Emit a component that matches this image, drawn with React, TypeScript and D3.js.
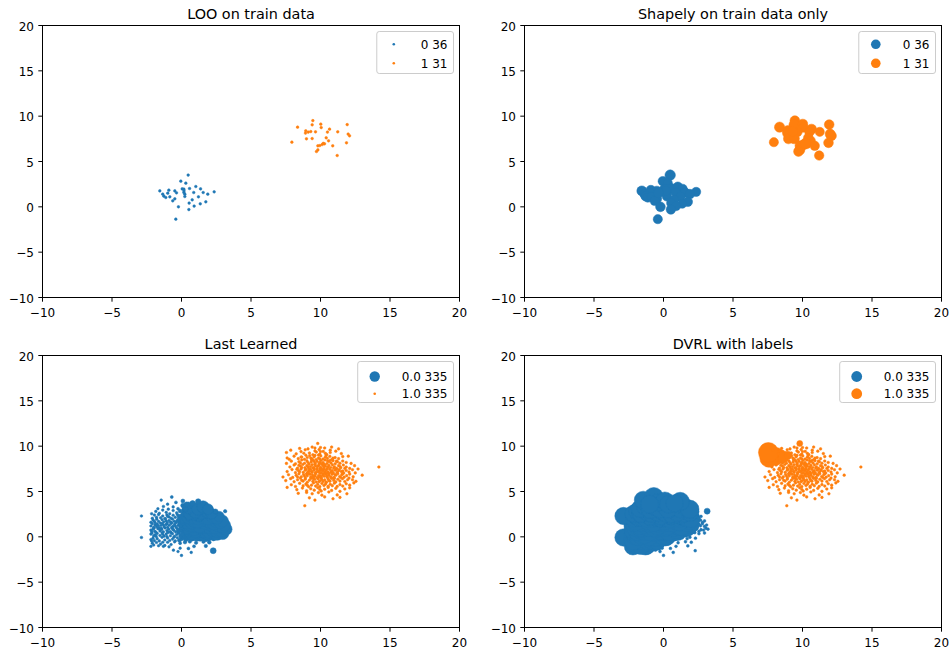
import React from "react";
import * as d3 from "d3";

// Each point: [x, y, weightA, weightB]
// top row: weightA = LOO value, weightB = Shapley value
// bottom row: weightA = Last-Learned value, weightB = DVRL value
type Pt = [number, number, number, number];

const TOP_CLASS0: Pt[] = [
  [0.48, 3.5, 7, 110], [-0.05, 2.83, 7, 90], [0.31, 2.61, 7, 85], [-1.56, 1.76, 7, 100],
  [-0.91, 1.84, 7, 95], [-0.48, 1.76, 7, 90], [0.05, 1.98, 7, 85], [0.17, 1.95, 7, 90],
  [0.58, 2.02, 7, 95], [1.03, 2.24, 7, 85], [1.37, 1.98, 7, 90], [2.35, 1.65, 7, 85],
  [-1.35, 1.4, 7, 95], [-0.99, 1.51, 7, 100], [0.17, 1.58, 7, 90], [0.88, 1.58, 7, 85],
  [1.56, 1.58, 7, 90], [1.89, 1.4, 7, 95], [-1.27, 1.18, 7, 100], [-1.13, 1.03, 7, 90],
  [-0.84, 1.1, 7, 95], [0.24, 1.14, 7, 85], [1.22, 1.1, 7, 90], [-0.48, 0.88, 7, 95],
  [-0.63, 0.66, 7, 90], [0.77, 0.77, 7, 85], [1.75, 0.55, 7, 90], [0.55, 0.41, 7, 85],
  [1.35, 0.33, 7, 80], [0.91, 0.08, 7, 85], [-0.22, 0.0, 7, 95], [0.53, -0.3, 7, 90],
  [-0.41, -1.36, 7, 85], [0.24, 1.4, 7, 90], [0.18, 1.76, 7, 85], [-0.36, 1.54, 7, 95],
];

const TOP_CLASS1: Pt[] = [
  [9.45, 9.51, 7, 95], [9.4, 9.04, 7, 110], [10.02, 9.12, 7, 100], [10.05, 8.74, 7, 90],
  [8.35, 8.79, 7, 105], [11.92, 9.07, 7, 95], [10.65, 8.57, 7, 100], [10.5, 8.24, 7, 90],
  [8.94, 8.38, 7, 110], [9.12, 8.24, 7, 95], [8.92, 8.13, 7, 100], [9.64, 8.27, 7, 90],
  [11.24, 8.27, 7, 85], [11.99, 8.02, 7, 100], [12.09, 7.83, 7, 95], [8.99, 7.5, 7, 100],
  [9.4, 7.53, 7, 110], [10.41, 7.61, 7, 90], [10.58, 7.28, 7, 95], [7.94, 7.13, 7, 85],
  [11.87, 7.06, 7, 95], [10.29, 6.95, 7, 100], [10.12, 6.87, 7, 90], [9.95, 6.76, 7, 105],
  [9.81, 6.73, 7, 95], [10.88, 6.73, 7, 90], [9.81, 6.28, 7, 100], [9.71, 6.1, 7, 95],
  [11.2, 5.66, 7, 90], [10.2, 7.0, 7, 100], [9.3, 8.3, 7, 95],
];

const BOTTOM_CLASS0: Pt[] = [
  [0.0, -2.05, 7, 8], [0.7, -1.72, 7, 8], [2.28, -1.53, 36, 8], [-0.25, -1.62, 7, 8],
  [-2.2, -1.05, 7, 300], [-1.3, -1.05, 7, 300], [-0.9, -1.1, 7, 8], [-0.58, -1.47, 7, 8],
  [-0.1, -1.25, 7, 8], [0.5, -1.28, 9, 8], [0.9, -1.05, 9, 8], [1.75, -1.0, 12, 8],
  [-2.1, -0.7, 7, 330], [-2.0, -0.9, 7, 290], [-1.8, -0.62, 7, 340], [-1.5, -0.8, 7, 300],
  [-1.2, -0.95, 7, 320], [-1.0, -0.6, 7, 350], [-0.75, -0.85, 7, 8], [-0.5, -0.55, 7, 300],
  [-0.1, -0.7, 9, 8], [0.25, -0.6, 12, 8], [0.6, -0.52, 12, 8], [1.05, -0.65, 12, 8],
  [1.58, -0.54, 12, 8], [2.0, -0.6, 14, 8], [-1.35, -0.6, 7, 330], [-1.65, -0.98, 7, 310],
  [-2.88, -0.07, 7, 300], [-2.2, -0.3, 7, 340], [-2.05, -0.15, 7, 320], [-1.95, -0.42, 7, 300],
  [-1.75, -0.2, 7, 360], [-1.6, -0.45, 7, 310], [-1.4, -0.05, 7, 330], [-1.2, -0.35, 7, 350],
  [-1.0, -0.12, 7, 300], [-0.85, -0.4, 7, 320], [-0.65, -0.25, 7, 340], [-0.45, -0.45, 7, 300],
  [-0.3, -0.1, 7, 310], [-0.15, -0.38, 16, 8], [0.0, -0.22, 16, 8], [0.15, -0.05, 20, 300],
  [0.3, -0.3, 20, 8], [0.45, -0.12, 25, 8], [0.75, -0.2, 25, 8], [1.0, -0.05, 40, 8],
  [1.35, -0.1, 50, 8], [1.7, -0.2, 40, 8], [1.9, -0.05, 60, 8], [2.3, -0.15, 30, 8],
  [-2.15, -0.45, 7, 330], [-0.55, -0.05, 7, 350],
  [-2.2, 0.3, 7, 320], [-2.0, 0.1, 7, 350], [-2.12, 0.42, 7, 300], [-1.9, 0.22, 7, 330],
  [-1.82, 0.05, 7, 360], [-1.75, 0.38, 7, 310], [-1.55, 0.15, 7, 340], [-1.4, 0.45, 7, 300],
  [-1.25, 0.08, 7, 320], [-1.1, 0.3, 7, 350], [-0.95, 0.48, 7, 310], [-0.8, 0.12, 7, 330],
  [-0.65, 0.35, 7, 300], [-0.5, 0.05, 7, 340], [-0.35, 0.25, 7, 320], [-0.2, 0.45, 16, 350],
  [-0.05, 0.1, 20, 310], [0.1, 0.3, 25, 330], [0.25, 0.02, 20, 300], [0.38, 0.4, 30, 340],
  [0.5, 0.12, 60, 8], [0.62, 0.45, 120, 300], [0.88, 0.3, 130, 8], [1.0, 0.48, 150, 8],
  [1.12, 0.18, 140, 8], [1.25, 0.4, 160, 8], [1.55, 0.32, 170, 8], [1.7, 0.45, 150, 8],
  [1.95, 0.38, 180, 8], [2.25, 0.46, 170, 8], [2.55, 0.35, 180, 8], [2.95, 0.42, 170, 8],
  [-1.05, 0.02, 7, 330], [-0.75, 0.45, 7, 310], [0.7, 0.25, 110, 8], [-1.35, 0.28, 7, 340],
  [-2.15, 0.6, 7, 330], [-2.05, 0.85, 7, 310], [-2.2, 0.75, 7, 300], [-1.98, 0.95, 7, 340],
  [-1.92, 0.62, 7, 320], [-1.85, 0.52, 7, 300], [-1.7, 0.9, 7, 350], [-1.55, 0.65, 7, 310],
  [-1.42, 0.8, 7, 330], [-1.3, 0.55, 7, 300], [-1.18, 0.98, 7, 340], [-1.05, 0.7, 7, 310],
  [-0.92, 0.85, 7, 320], [-0.8, 0.58, 7, 300], [-0.68, 0.95, 7, 350], [-0.55, 0.72, 7, 310],
  [-0.42, 0.55, 7, 330], [-0.3, 0.88, 7, 300], [-0.18, 0.62, 16, 340], [-0.05, 0.95, 20, 310],
  [0.08, 0.75, 25, 320], [0.2, 0.55, 20, 300], [0.32, 0.9, 30, 350], [0.45, 0.68, 100, 310],
  [0.58, 0.52, 110, 330], [0.7, 0.85, 130, 300], [0.82, 0.62, 120, 340], [0.95, 0.97, 150, 310],
  [1.08, 0.74, 140, 320], [1.2, 0.55, 160, 8], [1.32, 0.88, 150, 300], [1.45, 0.66, 170, 8],
  [1.58, 0.95, 160, 320], [1.7, 0.6, 180, 8], [1.83, 0.8, 170, 8], [1.96, 0.55, 160, 8],
  [2.1, 0.92, 180, 8], [2.25, 0.7, 170, 8], [2.4, 0.88, 190, 8], [2.55, 0.6, 160, 8],
  [2.7, 0.78, 170, 8], [2.88, 0.74, 180, 8], [3.05, 0.95, 160, 8], [3.2, 0.85, 150, 8],
  [-1.0, 0.52, 7, 300], [-0.25, 0.7, 12, 340], [0.15, 0.98, 25, 310], [0.5, 0.8, 120, 330],
  [0.75, 0.7, 140, 300], [1.0, 0.58, 150, 320], [1.25, 0.98, 160, 310], [0.38, 0.6, 36, 340],
  [-0.6, 0.82, 7, 300], [-1.6, 0.88, 7, 330], [-1.45, 0.95, 7, 310], [0.9, 0.78, 150, 320],
  [-2.2, 1.2, 7, 320], [-2.1, 1.45, 7, 300], [-2.0, 1.05, 7, 340], [-1.9, 1.3, 7, 310],
  [-1.8, 1.12, 7, 350], [-1.75, 1.42, 7, 300], [-1.62, 1.02, 7, 330], [-1.5, 1.25, 7, 310],
  [-1.38, 1.45, 7, 340], [-1.25, 1.1, 7, 300], [-1.12, 1.35, 7, 320], [-1.0, 1.05, 7, 350],
  [-0.88, 1.28, 7, 310], [-0.75, 1.48, 7, 330], [-0.62, 1.15, 7, 300], [-0.5, 1.38, 7, 340],
  [-0.38, 1.02, 7, 310], [-0.25, 1.25, 7, 320], [-0.12, 1.45, 20, 300], [0.0, 1.1, 25, 350],
  [0.12, 1.32, 30, 310], [0.25, 1.05, 20, 330], [0.38, 1.42, 36, 300], [0.5, 1.18, 110, 340],
  [0.62, 1.38, 130, 310], [0.75, 1.02, 120, 320], [0.88, 1.28, 150, 300], [1.0, 1.48, 140, 350],
  [1.12, 1.12, 160, 310], [1.25, 1.35, 170, 330], [1.38, 1.05, 150, 300], [1.5, 1.25, 180, 340],
  [1.62, 1.45, 160, 310], [1.75, 1.1, 170, 320], [1.88, 1.32, 180, 300], [2.0, 1.02, 160, 8],
  [2.12, 1.4, 180, 8], [2.25, 1.2, 190, 8], [2.4, 1.05, 170, 8], [2.55, 1.37, 180, 8],
  [2.66, 1.22, 160, 8], [2.8, 1.45, 150, 8], [2.95, 1.15, 170, 8], [3.1, 1.3, 140, 8],
  [-1.7, 1.25, 7, 330], [-1.3, 1.3, 7, 310], [-0.7, 1.05, 7, 340], [-0.05, 1.3, 20, 300],
  [0.45, 1.45, 120, 320], [0.7, 1.22, 140, 310], [1.05, 1.25, 160, 340], [1.45, 1.4, 170, 300],
  [1.95, 1.45, 180, 320], [0.3, 1.2, 30, 330], [-0.45, 1.2, 7, 310], [-1.05, 1.42, 7, 300],
  [0.85, 1.45, 150, 320], [1.3, 1.15, 170, 330],
  [-2.2, 1.6, 7, 320], [-2.05, 1.85, 7, 300], [-1.9, 1.55, 7, 340], [-1.78, 1.95, 7, 310],
  [-1.65, 1.7, 7, 330], [-1.52, 1.52, 7, 300], [-1.4, 1.88, 7, 350], [-1.28, 1.65, 7, 310],
  [-1.15, 1.98, 7, 320], [-1.02, 1.58, 7, 300], [-0.9, 1.8, 7, 340], [-0.78, 1.62, 7, 310],
  [-0.65, 1.95, 7, 330], [-0.52, 1.72, 7, 300], [-0.4, 1.55, 7, 350], [-0.28, 1.88, 7, 310],
  [-0.15, 1.65, 16, 320], [-0.02, 1.98, 20, 300], [0.1, 1.55, 25, 340], [0.22, 1.78, 30, 310],
  [0.35, 1.6, 36, 330], [0.48, 1.92, 120, 300], [0.6, 1.7, 130, 350], [0.72, 1.52, 140, 310],
  [0.85, 1.85, 150, 320], [0.98, 1.65, 160, 300], [1.1, 1.95, 150, 340], [1.22, 1.58, 170, 310],
  [1.35, 1.78, 180, 330], [1.48, 1.62, 160, 300], [1.6, 1.9, 170, 350], [1.72, 1.55, 180, 310],
  [1.85, 1.75, 160, 320], [1.98, 1.98, 170, 300], [2.1, 1.6, 180, 8], [2.22, 1.82, 160, 8],
  [2.35, 1.52, 190, 8], [2.48, 1.72, 170, 8], [2.66, 1.84, 150, 8], [2.8, 1.6, 160, 8],
  [2.95, 1.75, 140, 8], [-1.95, 1.72, 7, 330], [-1.1, 1.75, 7, 310], [-0.35, 1.7, 7, 340],
  [0.28, 1.9, 30, 300], [0.9, 1.75, 160, 320], [1.45, 1.85, 170, 310], [0.05, 1.75, 20, 330],
  [-0.7, 1.55, 7, 300], [1.15, 1.7, 160, 340], [0.65, 1.95, 140, 310],
  [-2.88, 2.3, 7, 300], [-2.1, 2.05, 7, 320], [-1.95, 2.4, 7, 340], [-1.8, 2.15, 7, 310],
  [-1.65, 2.45, 7, 330], [-1.5, 2.1, 7, 300], [-1.35, 2.3, 7, 350], [-1.2, 2.02, 7, 310],
  [-1.05, 2.42, 7, 320], [-0.9, 2.2, 7, 300], [-0.75, 2.05, 7, 340], [-0.6, 2.38, 7, 310],
  [-0.45, 2.15, 7, 330], [-0.3, 2.45, 7, 300], [-0.15, 2.08, 16, 350], [0.0, 2.3, 20, 310],
  [0.15, 2.12, 25, 320], [0.3, 2.42, 30, 300], [0.45, 2.05, 110, 340], [0.6, 2.28, 130, 310],
  [0.75, 2.48, 140, 330], [0.9, 2.1, 160, 300], [1.05, 2.35, 150, 350], [1.2, 2.02, 170, 310],
  [1.35, 2.25, 160, 320], [1.5, 2.45, 180, 300], [1.65, 2.12, 170, 340], [1.8, 2.32, 150, 310],
  [1.95, 2.05, 180, 330], [2.1, 2.4, 140, 8], [2.25, 2.18, 160, 8], [2.4, 2.35, 30, 8],
  [2.55, 2.05, 150, 8], [2.7, 2.25, 110, 8], [-1.0, 2.25, 7, 300], [0.55, 2.4, 130, 350],
  [1.25, 2.4, 160, 310], [-0.2, 2.3, 12, 320],
  [-2.15, 2.55, 7, 300], [-1.85, 2.8, 7, 320], [-1.6, 2.6, 7, 340], [-1.35, 2.95, 7, 310],
  [-1.1, 2.7, 7, 330], [-0.85, 2.55, 7, 300], [-0.6, 2.9, 7, 350], [-0.35, 2.65, 7, 310],
  [-0.1, 2.85, 16, 320], [0.15, 2.6, 25, 300], [0.4, 2.95, 110, 340], [0.65, 2.7, 140, 310],
  [0.9, 2.55, 160, 330], [1.15, 2.85, 150, 300], [1.4, 2.65, 170, 350], [1.65, 2.95, 130, 310],
  [1.9, 2.7, 150, 320], [2.15, 2.55, 120, 8], [2.45, 2.8, 25, 8], [3.14, 2.83, 12, 36],
  [0.55, 2.52, 130, 300], [1.0, 2.75, 160, 340],
  [-1.7, 3.1, 7, 300], [-1.3, 3.35, 7, 320], [-0.95, 3.05, 7, 340], [-0.6, 3.3, 7, 310],
  [-0.25, 3.1, 9, 330], [0.1, 3.45, 20, 300], [0.5, 3.2, 140, 350], [0.85, 3.4, 40, 310],
  [1.2, 3.1, 170, 320], [1.55, 3.3, 150, 300], [1.9, 3.05, 120, 330], [0.3, 3.05, 25, 310],
  [-1.46, 4.05, 7, 320], [-0.7, 4.4, 9, 360], [-0.4, 3.8, 9, 300], [0.1, 3.95, 16, 330],
  [0.35, 3.6, 20, 310], [1.2, 3.9, 30, 340], [0.8, 3.7, 30, 300], [-1.0, 3.6, 7, 320],
];

const BOTTOM_CLASS1: Pt[] = [
  [8.87, 3.43, 7, 7], [10.9, 4.2, 7, 7], [9.6, 4.05, 7, 7], [10.3, 4.4, 7, 7], [11.4, 4.35, 7, 7], [9.2, 4.3, 7, 7],
  [9.4, 4.75, 7, 7], [9.0, 4.9, 7, 7], [11.9, 4.75, 7, 7], [10.1, 4.6, 7, 7], [10.6, 4.95, 7, 7], [8.4, 4.8, 7, 7],
  [11.2, 4.62, 7, 7], [9.85, 4.88, 7, 7],
  [7.6, 5.45, 7, 7], [8.3, 5.2, 7, 7], [8.7, 5.38, 7, 7], [9.0, 5.08, 7, 7], [9.3, 5.3, 7, 7], [9.55, 5.15, 7, 7],
  [9.8, 5.42, 7, 7], [10.05, 5.05, 7, 7], [10.3, 5.25, 7, 7], [10.55, 5.45, 7, 7], [10.8, 5.12, 7, 7], [11.1, 5.35, 7, 7],
  [11.4, 5.02, 7, 7], [11.75, 5.28, 7, 7], [12.1, 5.4, 7, 7], [9.95, 5.22, 7, 7],
  [7.9, 5.75, 7, 7], [8.2, 5.55, 7, 7], [8.5, 5.9, 7, 7], [8.75, 5.62, 7, 7], [8.95, 5.82, 7, 7], [9.15, 5.52, 7, 7],
  [9.35, 5.7, 7, 7], [9.5, 5.95, 7, 7], [9.65, 5.6, 7, 7], [9.8, 5.78, 7, 7], [9.95, 5.53, 7, 7], [10.1, 5.88, 7, 7],
  [10.25, 5.66, 7, 7], [10.4, 5.98, 7, 7], [10.55, 5.58, 7, 7], [10.7, 5.8, 7, 7], [10.85, 5.64, 7, 7], [11.0, 5.92, 7, 7],
  [11.2, 5.56, 7, 7], [11.4, 5.76, 7, 7], [11.6, 5.6, 7, 7], [11.85, 5.85, 7, 7], [12.1, 5.7, 7, 7], [12.4, 5.95, 7, 7],
  [9.05, 5.68, 7, 7], [10.35, 5.8, 7, 7],
  [7.5, 6.2, 7, 7], [7.85, 6.42, 7, 7], [8.1, 6.08, 7, 7], [8.35, 6.3, 7, 7], [8.55, 6.48, 7, 7], [8.75, 6.15, 7, 7],
  [8.9, 6.36, 7, 7], [9.05, 6.02, 7, 7], [9.2, 6.25, 7, 7], [9.32, 6.45, 7, 7], [9.45, 6.12, 7, 7], [9.58, 6.33, 7, 7],
  [9.7, 6.05, 7, 7], [9.82, 6.4, 7, 7], [9.95, 6.18, 7, 7], [10.05, 6.47, 7, 7], [10.18, 6.1, 7, 7], [10.3, 6.28, 7, 7],
  [10.42, 6.03, 7, 7], [10.55, 6.38, 7, 7], [10.68, 6.14, 7, 7], [10.8, 6.44, 7, 7], [10.95, 6.22, 7, 7], [11.1, 6.06, 7, 7],
  [11.25, 6.35, 7, 7], [11.4, 6.15, 7, 7], [11.58, 6.42, 7, 7], [11.75, 6.1, 7, 7], [11.95, 6.3, 7, 7], [12.3, 6.3, 7, 7],
  [12.55, 6.12, 7, 7], [8.65, 6.22, 7, 7], [9.5, 6.4, 7, 7], [10.1, 6.3, 7, 7], [10.6, 6.2, 7, 7], [11.0, 6.45, 7, 7],
  [9.9, 6.08, 7, 7], [12.05, 6.48, 7, 7],
  [7.3, 6.6, 7, 7], [7.7, 6.85, 7, 7], [8.0, 6.55, 7, 7], [8.25, 6.78, 7, 7], [8.45, 6.95, 7, 7], [8.62, 6.62, 7, 7],
  [8.78, 6.88, 7, 7], [8.92, 6.52, 7, 7], [9.05, 6.74, 7, 7], [9.18, 6.97, 7, 7], [9.3, 6.58, 7, 7], [9.42, 6.82, 7, 7],
  [9.53, 6.66, 7, 7], [9.64, 6.92, 7, 7], [9.75, 6.54, 7, 7], [9.86, 6.76, 7, 7], [9.96, 6.98, 7, 7], [10.06, 6.6, 7, 7],
  [10.16, 6.84, 7, 7], [10.27, 6.68, 7, 7], [10.38, 6.94, 7, 7], [10.49, 6.56, 7, 7], [10.6, 6.8, 7, 7], [10.72, 6.63, 7, 7],
  [10.84, 6.9, 7, 7], [10.97, 6.57, 7, 7], [11.1, 6.79, 7, 7], [11.24, 6.96, 7, 7], [11.38, 6.65, 7, 7], [11.53, 6.86, 7, 7],
  [11.7, 6.58, 7, 7], [11.88, 6.75, 7, 7], [12.1, 6.92, 7, 7], [12.35, 6.62, 7, 7], [13.0, 6.8, 7, 7], [8.35, 6.6, 7, 7],
  [8.85, 6.7, 7, 7], [9.25, 6.9, 7, 7], [9.6, 6.72, 7, 7], [9.9, 6.62, 7, 7], [10.2, 6.95, 7, 7], [10.45, 6.72, 7, 7],
  [10.78, 6.52, 7, 7], [11.05, 6.88, 7, 7], [11.45, 6.55, 7, 7], [9.0, 6.93, 7, 7], [10.0, 6.7, 7, 7], [10.6, 6.98, 7, 7],
  [9.45, 6.55, 7, 7], [11.6, 6.95, 7, 7],
  [7.6, 7.2, 7, 7], [7.95, 7.42, 7, 7], [8.2, 7.08, 7, 7], [8.42, 7.3, 7, 7], [8.6, 7.48, 7, 7], [8.76, 7.12, 7, 7],
  [8.9, 7.35, 7, 7], [9.03, 7.02, 7, 7], [9.16, 7.26, 7, 7], [9.28, 7.45, 7, 7], [9.4, 7.1, 7, 7], [9.52, 7.33, 7, 7],
  [9.63, 7.05, 7, 7], [9.74, 7.4, 7, 7], [9.85, 7.18, 7, 7], [9.96, 7.47, 7, 7], [10.07, 7.08, 7, 7], [10.18, 7.28, 7, 7],
  [10.3, 7.03, 7, 7], [10.42, 7.38, 7, 7], [10.54, 7.15, 7, 7], [10.66, 7.44, 7, 7], [10.79, 7.22, 7, 7], [10.92, 7.06, 7, 7],
  [11.06, 7.35, 7, 7], [11.2, 7.12, 7, 7], [11.35, 7.42, 7, 7], [11.5, 7.2, 7, 7], [11.67, 7.04, 7, 7], [11.85, 7.32, 7, 7],
  [12.05, 7.15, 7, 7], [12.3, 7.4, 7, 7], [12.7, 7.48, 7, 7], [8.5, 7.18, 7, 7], [8.95, 7.45, 7, 7], [9.35, 7.22, 7, 7],
  [9.7, 7.12, 7, 7], [10.0, 7.32, 7, 7], [10.25, 7.45, 7, 7], [10.5, 7.02, 7, 7], [10.85, 7.3, 7, 7], [11.15, 7.48, 7, 7],
  [11.6, 7.25, 7, 7], [9.1, 7.15, 7, 7], [9.55, 7.47, 7, 7], [9.9, 7.26, 7, 7], [10.35, 7.2, 7, 7], [10.75, 7.1, 7, 7],
  [11.3, 7.28, 7, 7], [8.3, 7.45, 7, 7], [12.5, 7.05, 7, 7], [10.1, 7.4, 7, 7],
  [7.8, 7.7, 7, 7], [8.1, 7.92, 7, 7], [8.35, 7.58, 7, 7], [8.55, 7.8, 7, 7], [8.72, 7.98, 7, 7], [8.88, 7.62, 7, 7],
  [9.02, 7.85, 7, 7], [9.15, 7.52, 7, 7], [9.28, 7.75, 7, 7], [9.4, 7.95, 7, 7], [9.52, 7.6, 7, 7], [9.64, 7.82, 7, 7],
  [9.76, 7.55, 7, 7], [9.88, 7.9, 7, 7], [10.0, 7.68, 7, 7], [10.12, 7.97, 7, 7], [10.24, 7.58, 7, 7], [10.36, 7.78, 7, 7],
  [10.48, 7.53, 7, 7], [10.6, 7.88, 7, 7], [10.73, 7.65, 7, 7], [10.86, 7.94, 7, 7], [11.0, 7.72, 7, 7], [11.15, 7.56, 7, 7],
  [11.3, 7.85, 7, 7], [11.46, 7.62, 7, 7], [11.64, 7.92, 7, 7], [11.85, 7.7, 7, 7], [12.1, 7.55, 7, 7], [12.45, 7.85, 7, 7],
  [14.2, 7.7, 7, 7], [8.65, 7.65, 7, 7], [9.1, 7.72, 7, 7], [9.45, 7.62, 7, 7], [9.8, 7.78, 7, 7], [10.05, 7.52, 7, 7],
  [10.3, 7.92, 7, 7], [10.55, 7.7, 7, 7], [10.95, 7.58, 7, 7], [11.4, 7.76, 7, 7], [9.6, 7.98, 7, 7], [10.2, 7.82, 7, 7],
  [11.75, 7.55, 7, 7], [8.45, 7.9, 7, 7],
  [7.55, 8.1, 7, 7], [7.9, 8.35, 7, 7], [8.2, 8.05, 7, 7], [8.45, 8.28, 7, 7], [8.65, 8.48, 7, 7], [8.85, 8.12, 7, 7],
  [9.02, 8.38, 7, 7], [9.18, 8.02, 7, 7], [9.33, 8.25, 7, 7], [9.48, 8.45, 7, 7], [9.62, 8.1, 7, 7], [9.76, 8.32, 7, 7],
  [9.9, 8.05, 7, 7], [10.04, 8.42, 7, 7], [10.18, 8.18, 7, 7], [10.32, 8.47, 7, 7], [10.46, 8.08, 7, 7], [10.6, 8.3, 7, 7],
  [10.75, 8.15, 7, 7], [10.9, 8.4, 7, 7], [11.06, 8.06, 7, 7], [11.22, 8.28, 7, 7], [11.4, 8.12, 7, 7], [11.6, 8.36, 7, 7],
  [11.85, 8.2, 7, 7], [12.2, 8.1, 7, 7], [8.55, 8.15, 7, 7], [9.1, 8.2, 7, 7], [9.55, 8.3, 7, 7], [9.95, 8.22, 7, 7],
  [10.25, 8.02, 7, 7], [10.7, 8.45, 7, 7], [11.15, 8.35, 7, 7], [9.35, 8.48, 7, 7], [10.0, 8.12, 7, 7], [10.5, 8.38, 7, 7],
  [7.75, 8.55, 7, 7], [8.1, 8.9, 7, 300], [8.4, 8.62, 7, 7], [8.65, 8.8, 7, 7], [8.85, 8.55, 7, 7], [9.05, 8.75, 7, 7],
  [9.22, 8.95, 7, 7], [9.38, 8.6, 7, 7], [9.54, 8.82, 7, 7], [9.7, 8.52, 7, 7], [9.86, 8.7, 7, 7], [10.02, 8.92, 7, 7],
  [10.18, 8.58, 7, 7], [10.34, 8.78, 7, 7], [10.5, 8.65, 7, 7], [10.67, 8.88, 7, 7], [10.85, 8.56, 7, 7], [11.05, 8.74, 7, 7],
  [11.3, 8.62, 7, 7], [11.6, 8.85, 7, 7], [12.0, 8.9, 7, 7], [8.6, 8.8, 7, 150], [9.3, 8.7, 7, 7], [9.95, 8.58, 7, 7],
  [10.4, 8.95, 7, 7], [10.9, 8.68, 7, 7], [9.6, 8.98, 7, 7], [7.6, 8.7, 7, 350],
  [7.55, 9.3, 7, 400], [8.25, 9.15, 7, 7], [8.6, 9.4, 7, 7], [8.95, 9.0, 7, 60], [9.2, 9.25, 7, 7], [9.45, 9.05, 7, 7],
  [9.7, 9.35, 7, 7], [9.95, 9.12, 7, 7], [10.2, 9.42, 7, 7], [10.45, 9.08, 7, 7], [10.7, 9.3, 7, 7], [11.1, 9.45, 7, 7],
  [10.0, 9.4, 7, 7], [11.5, 9.18, 7, 7], [8.8, 9.22, 7, 7], [9.6, 9.48, 7, 7], [10.35, 9.2, 7, 7], [9.85, 9.02, 7, 7],
  [7.86, 9.56, 7, 7], [9.1, 9.7, 7, 7], [10.7, 9.56, 7, 7], [9.8, 10.3, 7, 36], [10.8, 9.9, 7, 7], [9.4, 9.9, 7, 7],
  [10.3, 9.8, 7, 7], [9.9, 9.62, 7, 7], [8.5, 9.75, 7, 7], [10.0, 9.85, 7, 7], [11.3, 9.7, 7, 7], [9.6, 9.8, 7, 7],
  [8.9, 9.6, 7, 7],
];

const AXIS_TICKS = [-10, -5, 0, 5, 10, 15, 20];
const TOP_LABELS = ["0", "1"];
const BOTTOM_LABELS = ["0.0", "1.0"];
const TITLES = ["LOO on train data", "Shapely on train data only", "Last Learned", "DVRL with labels"];

const COLORS = ["#1f77b4", "#ff7f0e"];
const FONT = "DejaVu Sans, sans-serif";
const W = 417;
const H = 272;

const radius = d3.scaleSqrt().domain([0, 400]).range([0, 10]);

interface PanelCfg {
  title: string;
  left: number;
  top: number;
  series: Pt[][];
  labels: string[];
  weightIndex: 2 | 3;
  legendR: number[];
  rowTop: number;
  rowGap: number;
  boxH: number;
}

const PANELS: PanelCfg[] = [
  { title: TITLES[0], left: 42.5, top: 25.5, series: [TOP_CLASS0, TOP_CLASS1], labels: TOP_LABELS, weightIndex: 2, legendR: [1.3, 1.3], rowTop: 12.8, rowGap: 19, boxH: 42 },
  { title: TITLES[1], left: 524.5, top: 25.5, series: [TOP_CLASS0, TOP_CLASS1], labels: TOP_LABELS, weightIndex: 3, legendR: [4.8, 4.8], rowTop: 12.8, rowGap: 19, boxH: 42 },
  { title: TITLES[2], left: 42.5, top: 355.5, series: [BOTTOM_CLASS0, BOTTOM_CLASS1], labels: BOTTOM_LABELS, weightIndex: 2, legendR: [5.2, 1.3], rowTop: 15, rowGap: 17.2, boxH: 41 },
  { title: TITLES[3], left: 524.5, top: 355.5, series: [BOTTOM_CLASS0, BOTTOM_CLASS1], labels: BOTTOM_LABELS, weightIndex: 3, legendR: [5.4, 5.4], rowTop: 15, rowGap: 17.2, boxH: 41 },
];

// Approximate DejaVu Sans advance widths at 12px
function textWidth(s: string): number {
  let w = 0;
  for (const ch of s) {
    if (ch === " " || ch === ".") w += 3.82;
    else w += 7.63;
  }
  return w;
}

const fmt = (v: number) => (v < 0 ? "\u2212" + Math.abs(v) : String(v));

function Panel({ cfg, idx }: { cfg: PanelCfg; idx: number }) {
  const x = d3.scaleLinear().domain([-10, 20]).range([cfg.left, cfg.left + W]);
  const y = d3.scaleLinear().domain([-10, 20]).range([cfg.top + H, cfg.top]);
  const right = cfg.left + W;
  const bottom = cfg.top + H;

  const entries = cfg.series.map((s, i) => `${cfg.labels[i]} ${s.length}`);
  const maxText = Math.max(...entries.map(textWidth));
  const boxW = 50 + maxText;
  const boxRight = right - 6;
  const boxLeft = boxRight - boxW;
  const boxTop = cfg.top + 6;
  const clipId = `clip-${idx}`;

  return (
    <g>
      <defs>
        <clipPath id={clipId}>
          <rect x={cfg.left} y={cfg.top} width={W} height={H} />
        </clipPath>
      </defs>
      <g clipPath={`url(#${clipId})`}>
        {cfg.series.map((s, si) => (
          <g key={si} fill={COLORS[si]} stroke={COLORS[si]} strokeWidth={0.5}>
            {s.map((p, pi) => (
              <circle key={pi} cx={x(p[0])} cy={y(p[1])} r={radius(p[cfg.weightIndex])} />
            ))}
          </g>
        ))}
      </g>
      <rect x={cfg.left} y={cfg.top} width={W} height={H} fill="none" stroke="#000" strokeWidth={1} />
      {AXIS_TICKS.map((t) => (
        <g key={"x" + t}>
          <line x1={x(t)} x2={x(t)} y1={bottom} y2={bottom + 4.2} stroke="#000" strokeWidth={1} />
          <text x={x(t)} y={bottom + 19} textAnchor="middle" fontSize={12} fontFamily={FONT} fill="#000">
            {fmt(t)}
          </text>
        </g>
      ))}
      {AXIS_TICKS.map((t) => (
        <g key={"y" + t}>
          <line x1={cfg.left - 4.2} x2={cfg.left} y1={y(t)} y2={y(t)} stroke="#000" strokeWidth={1} />
          <text x={cfg.left - 8.5} y={y(t) + 5} textAnchor="end" fontSize={12} fontFamily={FONT} fill="#000">
            {fmt(t)}
          </text>
        </g>
      ))}
      <text x={(cfg.left + right) / 2} y={cfg.top - 6.5} textAnchor="middle" fontSize={14.4} fontFamily={FONT} fill="#000">
        {cfg.title}
      </text>
      <rect x={boxLeft} y={boxTop} width={boxW} height={cfg.boxH} rx={2.5} ry={2.5}
        fill="#fff" fillOpacity={0.8} stroke="#cccccc" strokeWidth={1} />
      {entries.map((label, i) => {
        const cy = boxTop + cfg.rowTop + i * cfg.rowGap;
        return (
          <g key={label}>
            <circle cx={boxLeft + 17} cy={cy} r={cfg.legendR[i]} fill={COLORS[i]} />
            <text x={boxRight - 6} y={cy + 4.4} textAnchor="end" fontSize={12} fontFamily={FONT} fill="#000">
              {label}
            </text>
          </g>
        );
      })}
    </g>
  );
}

export default function App() {
  return (
    <div style={{ position: "absolute", left: 0, top: 0 }}>
      <svg width={950} height={652} style={{ display: "block", background: "#fff" }}>
        {PANELS.map((cfg, i) => (
          <Panel key={i} cfg={cfg} idx={i} />
        ))}
      </svg>
    </div>
  );
}
